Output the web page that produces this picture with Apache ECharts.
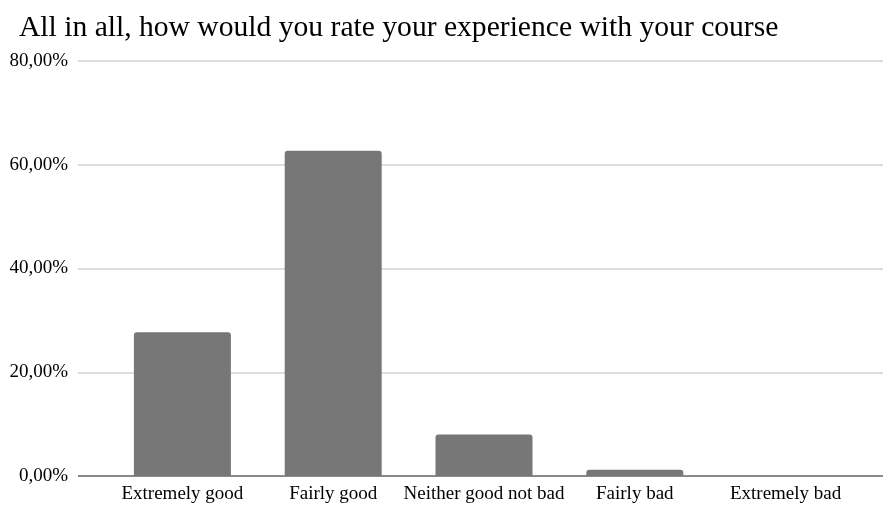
<!DOCTYPE html>
<html><head><meta charset="utf-8">
<script src="https://cdn.jsdelivr.net/npm/echarts@6/dist/echarts.min.js"></script>
<style>html,body{margin:0;padding:0;background:#fff}#c{width:883px;height:505px}</style>
</head><body><div id="c"></div>
<script>
const categories = ["Extremely good", "Fairly good", "Neither good not bad", "Fairly bad", "Extremely bad"];
const values = [27.7, 62.7, 8.0, 1.2, 0];
const yTicks = [0, 20, 40, 60, 80];
const titleText = "All in all, how would you rate your experience with your course";

const chart = echarts.init(document.getElementById('c'), null, {renderer: 'canvas'});
const font = "'Liberation Serif', 'DejaVu Serif', serif";
const fmt = v => v.toFixed(2).replace('.', ',') + '%';
chart.setOption({
  animation: false,
  title: {text: titleText, left: 14, top: 8, textStyle: {fontFamily: font, fontSize: 29.6, fontWeight: 'normal', color: '#000'}},
  grid: [
    {left: 78, right: 0, top: 61, bottom: 29},
    {left: 107, right: 22, top: 61, bottom: 29}
  ],
  xAxis: [
    {type: 'value', gridIndex: 0, show: false, min: 0, max: 1},
    {type: 'category', gridIndex: 1, data: categories,
     axisLine: {show: false}, axisTick: {show: false},
     axisLabel: {fontFamily: font, fontSize: 19, color: '#000', margin: 9, interval: 0}}
  ],
  yAxis: [
    {type: 'value', gridIndex: 0, min: yTicks[0], max: yTicks[yTicks.length - 1], interval: 20,
     axisLine: {show: false}, axisTick: {show: false},
     axisLabel: {fontFamily: font, fontSize: 19, color: '#000', margin: 10, formatter: fmt},
     splitLine: {lineStyle: {color: '#d2d2d2', width: 1.5}}},
    {type: 'value', gridIndex: 1, min: 0, max: 80, interval: 20, show: false, splitLine: {show: false}}
  ],
  series: [
    {type: 'line', xAxisIndex: 0, yAxisIndex: 0, data: [[0, 0], [1, 0]], symbol: 'none', silent: true,
     lineStyle: {color: '#8a8a8a', width: 2}, z: 1},
    {type: 'bar', xAxisIndex: 1, yAxisIndex: 1, data: values, barWidth: 97,
     itemStyle: {color: '#777777', borderRadius: [3, 3, 0, 0]}, z: 2}
  ]
});
</script></body></html>
